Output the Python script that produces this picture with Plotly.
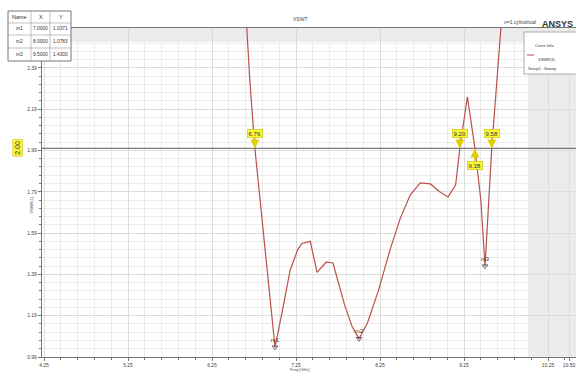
import plotly.graph_objects as go

# ---------------- data ----------------
freq_ghz = [6.64, 6.70, 6.76, 6.88, 7.00, 7.10, 7.18, 7.27, 7.32, 7.42, 7.50, 7.61, 7.69,
            7.83, 7.92, 8.00, 8.10, 8.23, 8.37, 8.49, 8.61, 8.73, 8.85, 8.96, 9.06, 9.15,
            9.20, 9.29, 9.36, 9.38, 9.45, 9.50, 9.58, 9.64, 9.72]
vswr = [2.75, 2.33, 2.00, 1.51, 1.037, 1.24, 1.41, 1.51, 1.54, 1.55, 1.40, 1.45, 1.445,
        1.24, 1.135, 1.078, 1.155, 1.31, 1.51, 1.66, 1.775, 1.833, 1.828, 1.79, 1.765, 1.823,
        2.00, 2.25, 2.04, 2.00, 1.75, 1.43, 2.00, 2.33, 2.75]

marker_names = ["m1", "m2", "m3"]
marker_x = [7.0000, 8.0000, 9.5000]
marker_y = [1.0371, 1.0783, 1.4300]

ref_level = 2.00
crossing_freqs = [6.76, 9.20, 9.38, 9.58]
crossing_below = [False, False, True, False]

x_tick_vals = [4.25, 5.25, 6.25, 7.25, 8.25, 9.25, 10.25, 10.50]
x_tick_text = ["4.25", "5.25", "6.25", "7.25", "8.25", "9.25", "10.25", "10.50"]
y_tick_vals = [0.99, 1.19, 1.39, 1.59, 1.79, 1.99, 2.19, 2.39]
y_tick_text = ["0.99", "1.19", "1.39", "1.59", "1.79", "1.99", "2.19", "2.39"]

x_range = [4.226, 10.583]
y_range = [0.99, 2.583]

# ---------------- figure ----------------
W, H = 576, 380
L, R, T, B = 42, 0, 28, 23
PW, PH = W - L - R, H - T - B

def px(xp):
    return (xp - L) / PW

def py(yp):
    return (H - B - yp) / PH

FONT = "Arial, Liberation Sans, sans-serif"
CURVE = "#b8524c"

fig = go.Figure()

fig.add_trace(go.Scatter(x=freq_ghz, y=vswr, mode="lines",
                         line=dict(color=CURVE, width=1.2), showlegend=False,
                         hoverinfo="skip"))

fig.add_trace(go.Scatter(x=marker_x, y=marker_y, mode="markers+text",
                         text=marker_names, textposition="top center",
                         textfont=dict(family=FONT, size=6, color="#333"),
                         marker=dict(symbol="triangle-down-open", size=5,
                                     color="#444", line=dict(width=0.8)),
                         showlegend=False, hoverinfo="skip"))

shapes = []
# grey bands (top and right)
shapes.append(dict(type="rect", xref="paper", yref="paper", x0=0, x1=1,
                   y0=py(42), y1=1, fillcolor="#ececec", line=dict(width=0), layer="below"))
shapes.append(dict(type="rect", xref="paper", yref="paper", x0=px(528), x1=1,
                   y0=0, y1=py(42), fillcolor="#ececec", line=dict(width=0), layer="below"))
# reference level line
shapes.append(dict(type="line", xref="paper", yref="y", x0=0, x1=1,
                   y0=ref_level, y1=ref_level, line=dict(color="#7a7a7a", width=1.2)))

annotations = []
# crossing labels
for f, below in zip(crossing_freqs, crossing_below):
    annotations.append(dict(x=f, y=ref_level, xref="x", yref="y",
                            text=f"{f:.2f}", showarrow=True,
                            ax=0, ay=(17 if below else -15),
                            arrowhead=2, arrowsize=1.2, arrowwidth=1.5,
                            arrowcolor="#e0d000",
                            bgcolor="#fbf63a", bordercolor="#c8c000", borderwidth=0.6,
                            borderpad=1,
                            font=dict(family=FONT, size=6, color="#333")))
# left ref-level label
annotations.append(dict(x=px(13), y=ref_level, xref="paper", yref="y",
                        text=f"{ref_level:.2f}", showarrow=False, textangle=-90,
                        bgcolor="#fbf63a", bordercolor="#c8c000", borderwidth=0.6,
                        font=dict(family=FONT, size=7, color="#333")))
# titles
annotations.append(dict(x=px(300), y=py(14), xref="paper", yref="paper", text="VSWT",
                        showarrow=False, font=dict(family=FONT, size=5, color="#444")))
annotations.append(dict(x=px(27), y=py(205), xref="paper", yref="paper", text="VSWR(1)",
                        showarrow=False, textangle=-90,
                        font=dict(family=FONT, size=4, color="#555")))
annotations.append(dict(x=px(300), y=py(374), xref="paper", yref="paper", text="Freq [GHz]",
                        showarrow=False, font=dict(family=FONT, size=4, color="#555")))
annotations.append(dict(x=px(538), y=py(17), xref="paper", yref="paper", text="n=1 cylindrical",
                        showarrow=False, xanchor="right",
                        font=dict(family=FONT, size=5, color="#444")))
annotations.append(dict(x=px(575), y=py(17), xref="paper", yref="paper", text="<b>ANSYS</b>",
                        showarrow=False, xanchor="right",
                        font=dict(family=FONT, size=9, color="#333")))

# curve-info box
shapes.append(dict(type="rect", xref="paper", yref="paper", x0=px(524), x1=px(580),
                   y0=py(74), y1=py(32), fillcolor="white",
                   line=dict(color="#999", width=0.8)))
shapes.append(dict(type="line", xref="paper", yref="paper", x0=px(527), x1=px(534),
                   y0=py(55), y1=py(55), line=dict(color=CURVE, width=1)))
annotations.append(dict(x=px(533), y=py(41), xref="paper", yref="paper", text="Curve Info",
                        showarrow=False, xanchor="left",
                        font=dict(family=FONT, size=4, color="#333")))
annotations.append(dict(x=px(536), y=py(55), xref="paper", yref="paper", text="VSWR(1)",
                        showarrow=False, xanchor="left",
                        font=dict(family=FONT, size=4, color="#333")))
annotations.append(dict(x=px(526), y=py(64), xref="paper", yref="paper", text="Setup1 : Sweep",
                        showarrow=False, xanchor="left",
                        font=dict(family=FONT, size=4, color="#333")))

# marker table
col_edges = [8, 31, 50, 71]
row_edges = [11, 23, 35, 48, 61]
shapes.append(dict(type="rect", xref="paper", yref="paper", x0=px(col_edges[0]),
                   x1=px(col_edges[-1]), y0=py(row_edges[-1]), y1=py(row_edges[0]),
                   fillcolor="white", line=dict(color="#777", width=1)))
for c in col_edges[1:-1]:
    shapes.append(dict(type="line", xref="paper", yref="paper", x0=px(c), x1=px(c),
                       y0=py(row_edges[-1]), y1=py(row_edges[0]),
                       line=dict(color="#999", width=0.6)))
for r in row_edges[1:-1]:
    shapes.append(dict(type="line", xref="paper", yref="paper", x0=px(col_edges[0]),
                       x1=px(col_edges[-1]), y0=py(r), y1=py(r),
                       line=dict(color="#999", width=0.6)))
rows = [["Name", "X", "Y"]] + [[n, f"{x:.4f}", f"{y:.4f}"]
                               for n, x, y in zip(marker_names, marker_x, marker_y)]
for ri, row in enumerate(rows):
    yc = (row_edges[ri] + row_edges[ri + 1]) / 2
    for ci, cell in enumerate(row):
        xc = (col_edges[ci] + col_edges[ci + 1]) / 2
        annotations.append(dict(x=px(xc), y=py(yc), xref="paper", yref="paper", text=cell,
                                showarrow=False, xanchor="center", yanchor="middle",
                                font=dict(family=FONT, size=4.8 if ri else 5.5, color="#333")))

fig.update_layout(
    width=W, height=H,
    margin=dict(l=L, r=R, t=T, b=B, autoexpand=False),
    paper_bgcolor="white", plot_bgcolor="white",
    shapes=shapes, annotations=annotations,
    xaxis=dict(range=x_range, tickvals=x_tick_vals, ticktext=x_tick_text,
               showgrid=True, gridcolor="#dcdcdc", gridwidth=1,
               minor=dict(dtick=0.2, tick0=4.25, showgrid=True, gridcolor="#ececec",
                          ticks="outside", ticklen=2, tickcolor="#777"),
               ticks="outside", ticklen=3, tickcolor="#777",
               showline=True, linecolor="#777", linewidth=1.2, mirror=True,
               zeroline=False, tickfont=dict(family=FONT, size=5, color="#444")),
    yaxis=dict(range=y_range, tickvals=y_tick_vals, ticktext=y_tick_text,
               showgrid=True, gridcolor="#dcdcdc", gridwidth=1,
               minor=dict(dtick=0.04, tick0=0.99, showgrid=True, gridcolor="#ececec",
                          ticks="outside", ticklen=2, tickcolor="#777"),
               ticks="outside", ticklen=3, tickcolor="#777",
               showline=True, linecolor="#777", linewidth=1.2, mirror=True,
               zeroline=False, tickfont=dict(family=FONT, size=5, color="#444")),
)

fig.write_html("out.html", config={"displayModeBar": False},
               post_script="document.body.style.margin='0';")
